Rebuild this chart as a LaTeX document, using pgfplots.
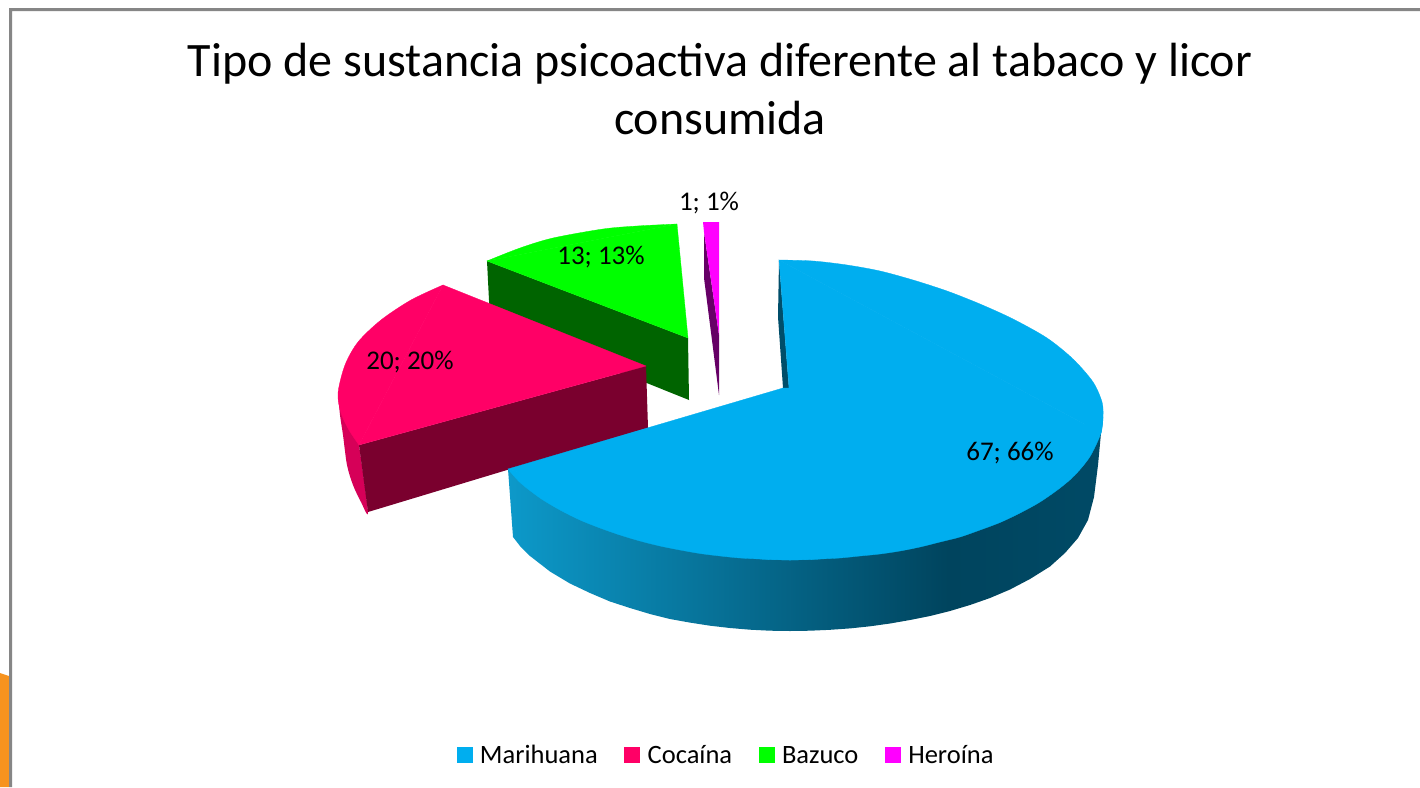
\documentclass[border=0pt]{standalone}
\usepackage{fontspec}
\setmainfont{Carlito}
\usepackage{pgfplots}
\pgfplotsset{compat=1.18}
\definecolor{cBlue}{RGB}{0,174,239}
\definecolor{cBlueIn}{RGB}{0,78,106}
\definecolor{cRed}{RGB}{255,0,102}
\definecolor{cRedFront}{RGB}{122,0,46}
\definecolor{cRedSide}{RGB}{214,0,88}
\definecolor{cGreen}{RGB}{0,255,0}
\definecolor{cGreenWall}{RGB}{0,100,0}
\definecolor{cMag}{RGB}{255,0,255}
\definecolor{cMagWall}{RGB}{102,0,102}
\definecolor{cBorder}{RGB}{134,134,134}
\definecolor{cOrange}{RGB}{247,147,30}
\pgfdeclarehorizontalshading{wallshade}{100bp}{rgb(0bp)=(0.05,0.60,0.79); rgb(25bp)=(0.05,0.60,0.79); rgb(62bp)=(0,0.267,0.368); rgb(75bp)=(0,0.29,0.40); rgb(100bp)=(0,0.29,0.40)}
\begin{document}
\begin{tikzpicture}
\begin{axis}[
  scale only axis, width=1420pt, height=787pt,
  xmin=0, xmax=1420, ymin=0, ymax=787, y dir=reverse,
  hide axis,
  legend columns=4,
  legend style={at={(axis cs:725,757)}, anchor=center, draw=none, fill=none,
    font=\fontsize{26.5}{30}\selectfont,
    nodes={inner sep=0pt, anchor=west, text height=18pt, text depth=6pt},
    /tikz/every odd column/.append style={column sep=8pt},
    /tikz/every even column/.append style={column sep=26.5pt}},
  legend image code/.code={\fill[#1] (0pt,-5.5pt) rectangle (15pt,9.5pt);},
]
\addlegendimage{cBlue}
\addlegendimage{cRed}
\addlegendimage{cGreen}
\addlegendimage{cMag}
\legend{Marihuana,Cocaína,Bazuco,Heroína}

% slide background, frame and orange corner
\addplot[fill=white,draw=none,forget plot] coordinates {(0,0)(1420,0)(1420,787)(0,787)} --cycle;
\addplot[fill=cOrange,draw=none,forget plot] coordinates {(0,673)(9,676)(9,787)(0,787)} --cycle;
\addplot[fill=cBorder,draw=none,forget plot] coordinates {(9,8)(1420,8)(1420,11)(12,11)(12,787)(9,787)} --cycle;

% Bazuco
\addplot[fill=cGreenWall,draw=none,forget plot] coordinates {(487,261)(688,338)(689,400)(490,320)} --cycle;
\addplot[fill=cGreen,draw=cGreen,line width=0.3pt,forget plot] coordinates {(487,261)(677,224)(688,338)} --cycle;
\addplot[fill=cGreen,draw=cGreen,line width=0.3pt,smooth,forget plot] coordinates {(487,261)(520,248)(553,238)(603,229)(637,226)(677,224)} --cycle;

% Cocaina
\addplot[fill=cRedSide,draw=none,smooth,forget plot] coordinates {(338,393)(340,415)(343,435)(347,465)(353,485)(361,502)(368,512)(359,445)} --cycle;
\addplot[fill=cRedFront,draw=none,forget plot] coordinates {(359,445)(646,366)(648,428)(507,470)(368,512)} --cycle;
\addplot[fill=cRed,draw=cRed,line width=0.3pt,forget plot] coordinates {(443,285)(359,445)(646,366)} --cycle;
\addplot[fill=cRed,draw=cRed,line width=0.3pt,smooth,forget plot] coordinates {(443,285)(411,300)(381,320)(358,342)(345,365)(338,393)(341,413)(349,430)(359,445)} --cycle;

% Heroina
\addplot[fill=cMagWall,draw=none,forget plot] coordinates {(704,232)(719,335)(719,395)(704,278)} --cycle;
\addplot[fill=cMag,draw=none,forget plot] coordinates {(703,222)(719,222)(719,335)(704,232)} --cycle;

% Marihuana: outer wall, inner wall, top
\addplot[shade,shading=wallshade,draw=none,forget plot] coordinates {
(508,469)(513,537)(520,546)(530,556)(550,571.5)(570,583.5)(590,593)(610,601.5)(630,608)(650,614)(670,619)(690,622.6)(710,625.7)(730,628)(750,629.7)(770,630.7)(790,631)
(810,630.7)(830,629.8)(850,628.4)(870,626.3)(890,623.5)(910,620)(930,616)(950,611)(970,605)(990,598)(1010,589.5)(1030,579)(1050,566.5)(1065,553)(1078,538)(1088,520)(1094,497)(1098,465)(1101,433)(1103,420)
(1050,487)(950,533)(790,554)(630,532)(550,500)(530,484)} --cycle;
\addplot[fill=cBlueIn,draw=none,forget plot] coordinates {(779,260)(778,317)(783,388)(789,388)} --cycle;
\addplot[fill=cBlue,draw=cBlue,line width=0.3pt,forget plot] coordinates {(779,260)(1101,433)(790,560)(508,469)(783,388)(789,388)} --cycle;
\addplot[fill=cBlue,draw=cBlue,line width=0.3pt,smooth,forget plot] coordinates {
(779,260)(813,261)(847,265)(880,271)(913,280)(947,291)(980,304)(1013,319)(1047,338)(1073,359)(1093,382)(1102,402)(1103,417)(1101,433)} --cycle;
\addplot[fill=cBlue,draw=cBlue,line width=0.3pt,smooth,forget plot] coordinates {
(1103,417)(1101,433)(1090,456.5)(1075,475)(1060,488)(1040,502)(1020,513)(1000,522.5)(980,530)(960,537)(940,542)(920,547)(900,551)(880,554)(860,556)(840,558)(820,559)(790,560)(760,559)} --cycle;
\addplot[fill=cBlue,draw=cBlue,line width=0.3pt,smooth,forget plot] coordinates {
(820,559)(790,560)(760,559)(740,558)(720,556)(700,553.5)(680,550)(660,546)(640,541)(620,535)(600,528)(580,520)(560,510)(540,498)(520,482.5)(508,469)} --cycle;

% texts
\node[align=center,font=\fontsize{48}{58}\selectfont,text=black] at (axis cs:720,89) {Tipo de sustancia psicoactiva diferente al tabaco y licor\\consumida};
\node[font=\fontsize{27}{30}\selectfont] at (axis cs:1010,453) {67; 66\%};
\node[font=\fontsize{27}{30}\selectfont] at (axis cs:410,362) {20; 20\%};
\node[font=\fontsize{27}{30}\selectfont] at (axis cs:601,257) {13; 13\%};
\node[font=\fontsize{27}{30}\selectfont] at (axis cs:709,203) {1; 1\%};
\end{axis}
\end{tikzpicture}
\end{document}
